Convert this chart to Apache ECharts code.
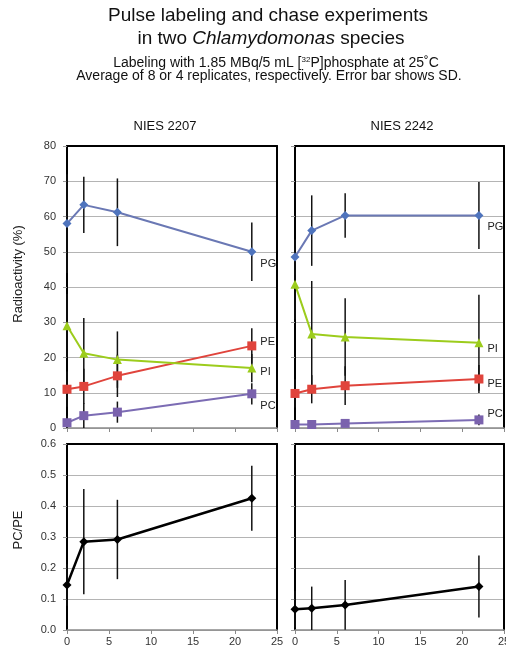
<!DOCTYPE html>
<html>
<head>
<meta charset="utf-8">
<script src="https://cdn.jsdelivr.net/npm/echarts@6/dist/echarts.min.js"></script>
<style>
  html, body { margin: 0; padding: 0; background: #fff; }
  #chart { width: 506px; height: 648px; }
</style>
</head>
<body>
<div id="chart"></div>
<script>
// chase time (h)
var hours = [0, 2, 6, 22];

// NIES 2207, radioactivity (%) mean and SD
var pg2207 = [58, 63.3, 61.2, 50];
var pg2207Sd = [14, 8, 9.6, 8.3];
var pi2207 = [29, 21.2, 19.4, 17];
var pi2207Sd = [9, 10, 8, 4];
var pe2207 = [11, 11.8, 14.8, 23.3];
var pe2207Sd = [5, 5, 6, 5];
var pc2207 = [1.5, 3.5, 4.5, 9.7];
var pc2207Sd = [2, 3.5, 3, 3];

// NIES 2242
var pg2242 = [48.5, 56, 60.3, 60.3];
var pg2242Sd = [5, 10, 6.3, 9.5];
var pi2242 = [40.8, 26.7, 25.8, 24.2];
var pi2242Sd = [10, 15, 11, 13.6];
var pe2242 = [9.8, 11, 12, 13.9];
var pe2242Sd = [4, 4, 5.5, 4];
var pc2242 = [1, 1, 1.3, 2.3];
var pc2242Sd = [0.5, 0.5, 0.8, 1.5];

// PC/PE ratio
var ratio2207 = [0.145, 0.285, 0.292, 0.425];
var ratio2207Sd = [0.067, 0.17, 0.128, 0.105];
var ratio2242 = [0.067, 0.07, 0.081, 0.14];
var ratio2242Sd = [0.06, 0.07, 0.08, 0.1];

var FONT = 'Liberation Sans, Arial, sans-serif';

var chart = echarts.init(document.getElementById('chart'));

var grids = [
    { left: 67, top: 146, width: 210, height: 282, outerBoundsMode: 'none' },
    { left: 295, top: 146, width: 209, height: 282, outerBoundsMode: 'none' },
    { left: 67, top: 444, width: 210, height: 186, outerBoundsMode: 'none' },
    { left: 295, top: 444, width: 209, height: 186, outerBoundsMode: 'none' }
];

var xAxes = [];
var yAxes = [];
grids.forEach(function (g, i) {
    var bottomRow = i >= 2;
    xAxes.push({
        type: 'value', gridIndex: i, min: 0, max: 25, interval: 5,
        axisLine: { onZero: false, lineStyle: { color: '#8a8a8a', width: 1.5 } },
        axisTick: { show: true, length: 4, lineStyle: { color: '#8a8a8a' } },
        axisLabel: { show: bottomRow, color: '#333', fontSize: 11, fontFamily: FONT, margin: 6,
                     hideOverlap: false },
        splitLine: { show: false }
    });
    yAxes.push({
        type: 'value', gridIndex: i,
        min: 0, max: bottomRow ? 0.6 : 80, interval: bottomRow ? 0.1 : 10,
        axisLine: { show: true, onZero: false, lineStyle: { color: '#000', width: 2 } },
        axisTick: { show: true, length: 4, lineStyle: { color: '#999' } },
        axisLabel: {
            show: i % 2 === 0, color: '#333', fontSize: 11, fontFamily: FONT, margin: 11,
            formatter: function (v) { return bottomRow ? v.toFixed(1) : String(v); }
        },
        splitLine: { show: true, lineStyle: { color: '#b4b4b4', width: 1 } }
    });
});
// frame top and right
grids.forEach(function (g, i) {
    xAxes.push({
        type: 'value', gridIndex: i, position: 'top', min: 0, max: 25,
        axisLine: { onZero: false, lineStyle: { color: '#000', width: 2 } },
        axisTick: { show: false }, axisLabel: { show: false }, splitLine: { show: false }
    });
    yAxes.push({
        type: 'value', gridIndex: i, position: 'right', min: 0, max: 1,
        axisLine: { show: true, onZero: false, lineStyle: { color: '#000', width: 2 } },
        axisTick: { show: false }, axisLabel: { show: false }, splitLine: { show: false }
    });
});

function pairs(values, sd) {
    return hours.map(function (h, i) { return sd ? [h, values[i], sd[i]] : [h, values[i]]; });
}

function errorBars(grid, values, sd) {
    return {
        type: 'custom', xAxisIndex: grid, yAxisIndex: grid, z: 1,
        data: pairs(values, sd),
        renderItem: function (params, api) {
            var x = api.value(0), y = api.value(1), s = api.value(2);
            var p1 = api.coord([x, y + s]);
            var p2 = api.coord([x, Math.max(0, y - s)]);
            return {
                type: 'line',
                shape: { x1: p1[0], y1: p1[1], x2: p2[0], y2: p2[1] },
                style: { stroke: '#111', lineWidth: 1.5 }
            };
        }
    };
}

function lineSeries(grid, name, values, color, lineColor, symbol, size, offset) {
    return {
        type: 'line', name: name, xAxisIndex: grid, yAxisIndex: grid, z: 3,
        data: pairs(values),
        symbol: symbol, symbolSize: size,
        itemStyle: { color: color },
        lineStyle: { color: lineColor, width: 2 },
        label: {
            show: name !== '', position: 'right', distance: 4, offset: offset || [0, 0],
            color: '#222', fontSize: 11, fontFamily: FONT,
            formatter: function (p) { return p.dataIndex === hours.length - 1 ? name : ''; }
        },
        emphasis: { disabled: true },
        animation: false
    };
}

var PG = '#4f74bd', PGL = '#6a78b4';
var PE = '#e0443c';
var PI = '#9ccc1c';
var PC = '#7a62ad', PCL = '#7c6cb4';

var series = [
    errorBars(0, pg2207, pg2207Sd),
    errorBars(0, pi2207, pi2207Sd),
    errorBars(0, pe2207, pe2207Sd),
    errorBars(0, pc2207, pc2207Sd),
    errorBars(1, pg2242, pg2242Sd),
    errorBars(1, pi2242, pi2242Sd),
    errorBars(1, pe2242, pe2242Sd),
    errorBars(1, pc2242, pc2242Sd),
    errorBars(2, ratio2207, ratio2207Sd),
    errorBars(3, ratio2242, ratio2242Sd),

    lineSeries(0, 'PG', pg2207, PG, PGL, 'diamond', 9, [0, 12]),
    lineSeries(0, 'PE', pe2207, PE, PE, 'rect', 9, [0, -4]),
    lineSeries(0, 'PI', pi2207, PI, PI, 'triangle', 9, [0, 4]),
    lineSeries(0, 'PC', pc2207, PC, PCL, 'rect', 9, [0, 12]),
    lineSeries(1, 'PG', pg2242, PG, PGL, 'diamond', 9, [0, 12]),
    lineSeries(1, 'PI', pi2242, PI, PI, 'triangle', 9, [0, 6]),
    lineSeries(1, 'PE', pe2242, PE, PE, 'rect', 9, [0, 5]),
    lineSeries(1, 'PC', pc2242, PC, PCL, 'rect', 9, [0, -6]),
    lineSeries(2, '', ratio2207, '#000', '#000', 'diamond', 9),
    lineSeries(3, '', ratio2242, '#000', '#000', 'diamond', 9)
];
series[18].lineStyle.width = 2.5;
series[19].lineStyle.width = 2.5;

function txt(x, y, text, size, extra) {
    var style = {
        x: x, y: y, text: text, fill: '#111', fontSize: size, fontFamily: FONT,
        textAlign: 'center', textVerticalAlign: 'middle'
    };
    for (var k in extra || {}) style[k] = extra[k];
    return { type: 'text', style: style, silent: true };
}

var option = {
    backgroundColor: '#fff',
    animation: false,
    grid: grids,
    xAxis: xAxes,
    yAxis: yAxes,
    series: series,
    graphic: [
        txt(268, 16, 'Pulse labeling and chase experiments', 19),
        txt(271, 39, '{a|in two }{i|Chlamydomonas}{a| species}', 19, {
            rich: {
                a: { fontSize: 19, fontFamily: FONT, fill: '#111' },
                i: { fontSize: 19, fontFamily: FONT, fontStyle: 'italic', fill: '#111' }
            }
        }),
        txt(276, 63, '{a|Labeling with 1.85 MBq/5 mL [}{s|32}{a|P]phosphate at 25˚C}', 14, {
            rich: {
                a: { fontSize: 14, fontFamily: FONT, fill: '#111', lineHeight: 15 },
                s: { fontSize: 8, fontFamily: FONT, fill: '#111', verticalAlign: 'top', lineHeight: 15 }
            }
        }),
        txt(269, 76, 'Average of 8 or 4 replicates, respectively. Error bar shows SD.', 14),
        txt(165, 126, 'NIES 2207', 13),
        txt(402, 126, 'NIES 2242', 13),
        { type: 'text', x: 18, y: 274, rotation: Math.PI / 2, silent: true,
          style: { text: 'Radioactivity (%)', fill: '#222', fontSize: 13, fontFamily: FONT,
                   textAlign: 'center', textVerticalAlign: 'middle' } },
        { type: 'text', x: 18, y: 530, rotation: Math.PI / 2, silent: true,
          style: { text: 'PC/PE', fill: '#222', fontSize: 13, fontFamily: FONT,
                   textAlign: 'center', textVerticalAlign: 'middle' } }
    ]
};

chart.setOption(option);
</script>
</body>
</html>
